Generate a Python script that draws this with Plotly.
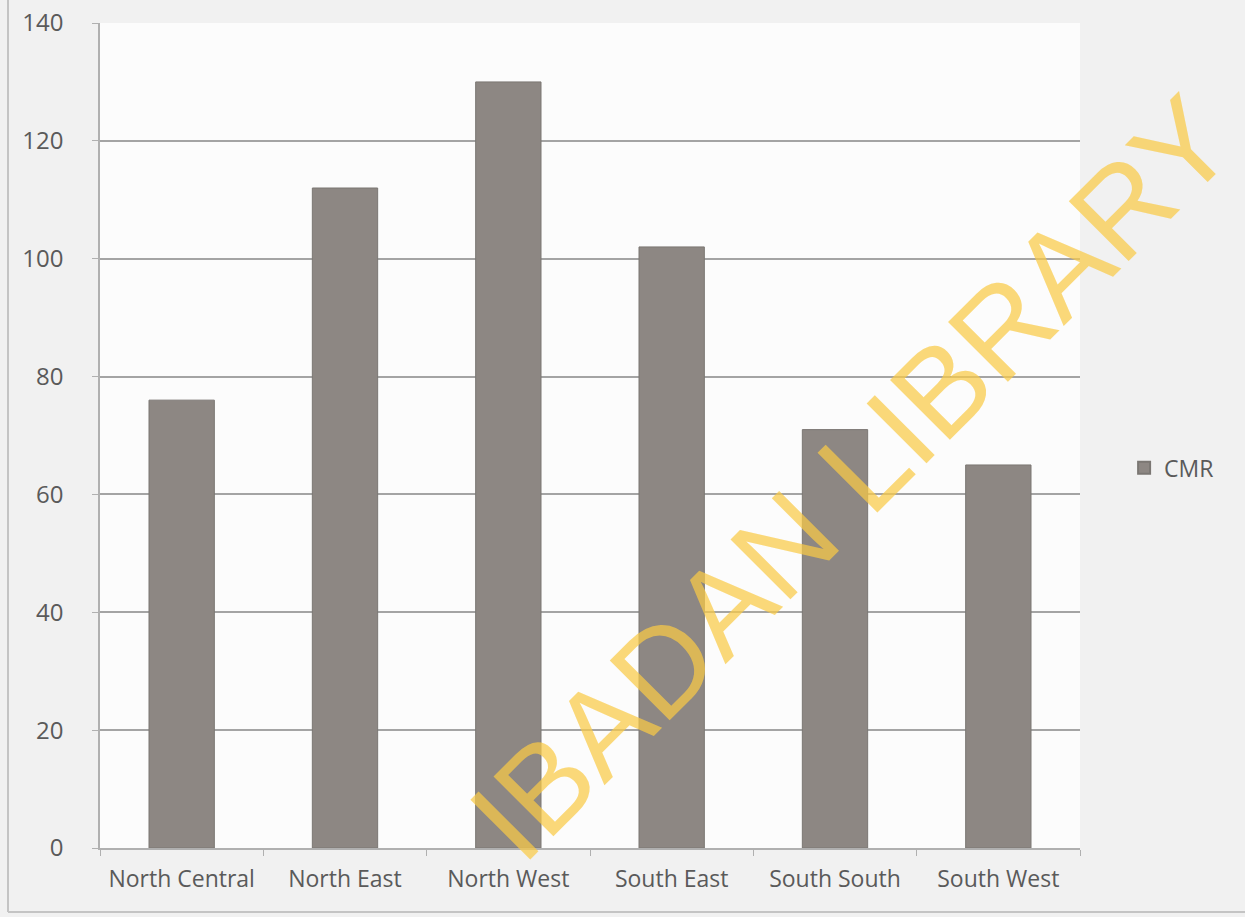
import plotly.graph_objects as go

regions = ["North Central", "North East", "North West", "South East", "South South", "South West"]
cmr = [76, 112, 130, 102, 71, 65]
y_ticks = [0, 20, 40, 60, 80, 100, 120, 140]

W, H = 1245, 917
ML, MR, MT, MB = 100, 165, 23, 69
PW = W - ML - MR
PH = H - MT - MB

def px2paper(px, py):
    return (px - ML) / PW, (H - MB - py) / PH

fig = go.Figure()
fig.add_trace(go.Bar(
    x=regions, y=cmr, name="CMR",
    marker=dict(color="#8d8783", line=dict(color="#7b7773", width=1)),
    width=0.4,
))

wx, wy = px2paper(851, 478)
lx0, ly0 = px2paper(8, 0)
lx1, ly1 = px2paper(1245, 912)

fig.update_layout(
    width=W, height=H,
    margin=dict(l=ML, r=MR, t=MT, b=MB, autoexpand=False),
    paper_bgcolor="#f1f1f1",
    plot_bgcolor="#fcfcfc",
    font=dict(family="Open Sans, Noto Sans, sans-serif", size=24, color="#5a5a5a"),
    showlegend=True,
    legend=dict(x=1.045, y=0.461, xanchor="left", yanchor="middle",
                bgcolor="rgba(0,0,0,0)", font=dict(size=23, color="#5a5a5a"),
                itemsizing="constant"),
    bargap=0.6,
    xaxis=dict(
        showgrid=False, showline=True, linecolor="#b0b0b0", linewidth=1.5,
        ticks="outside", ticklen=6, tickcolor="#b0b0b0",
        tickson="boundaries", tickfont=dict(size=23, color="#5a5a5a"),
        ticklabelstandoff=10, automargin=False,
    ),
    yaxis=dict(
        range=[0, 140], tickvals=y_ticks,
        showgrid=True, gridcolor="#a4a4a4", gridwidth=1.5,
        showline=True, linecolor="#b0b0b0", linewidth=1.5,
        ticks="outside", ticklen=6, tickcolor="#b0b0b0",
        tickfont=dict(size=24, color="#5a5a5a"), zeroline=False,
        ticklabelstandoff=24, automargin=False, ticklabeloverflow="allow",
    ),
    shapes=[
        dict(type="line", xref="paper", yref="paper", x0=lx0, x1=lx0, y0=ly0, y1=ly1,
             line=dict(color="#c4c4c4", width=2)),
        dict(type="line", xref="paper", yref="paper", x0=lx0, x1=lx1, y0=ly1, y1=ly1,
             line=dict(color="#c4c4c4", width=2)),
    ],
    annotations=[
        dict(text="IBADAN LIBRARY", xref="paper", yref="paper",
             x=wx, y=wy, xanchor="center", yanchor="middle", showarrow=False,
             textangle=-45, borderpad=0,
             font=dict(family="Liberation Sans, Arial, sans-serif", size=123,
                       color="rgba(250,202,70,0.72)")),
    ],
)

fig.write_html("out.html")
